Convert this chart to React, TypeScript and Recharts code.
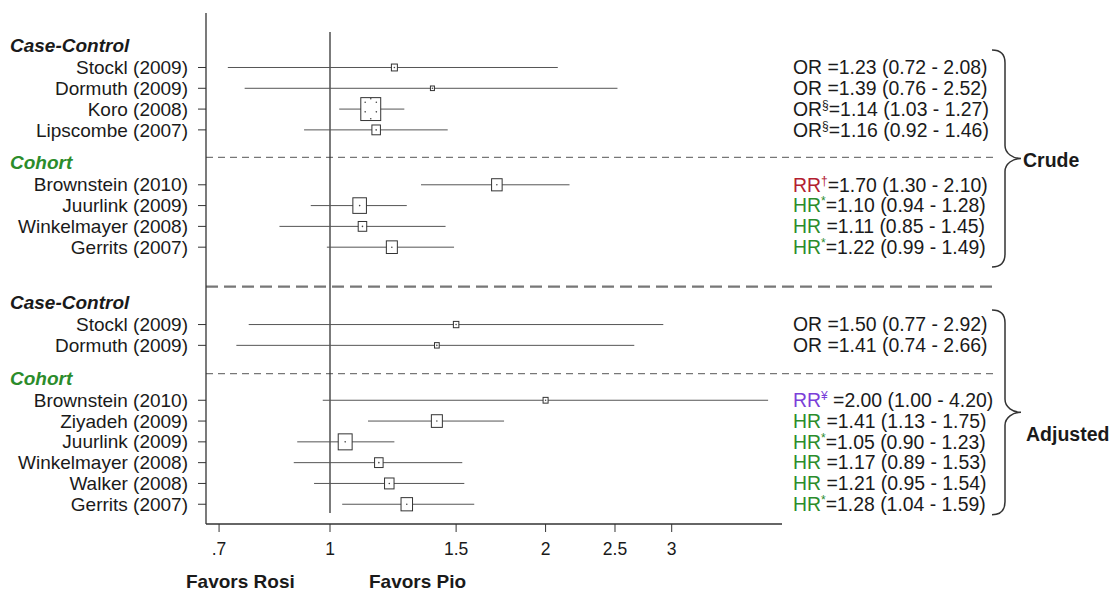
import React from 'react';
import { ScatterChart, Scatter, XAxis, YAxis, ReferenceLine } from 'recharts';

const FONT = '"Liberation Sans", Arial, Helvetica, sans-serif';

// ---------- data: Crude, case-control ----------
const crudeCCNames = ['Stockl (2009)', 'Dormuth (2009)', 'Koro (2008)', 'Lipscombe (2007)'];
const crudeCCEst = [1.23, 1.39, 1.14, 1.16];
const crudeCCLow = [0.72, 0.76, 1.03, 0.92];
const crudeCCHigh = [2.08, 2.52, 1.27, 1.46];
const crudeCCWeight = [7.4, 3.3, 82, 15];
const crudeCCMeasure = ['OR', 'OR', 'OR', 'OR'];
const crudeCCMark = ['', '', '§', '§'];
const crudeCCText = [' =1.23 (0.72 - 2.08)', ' =1.39 (0.76 - 2.52)', '=1.14 (1.03 - 1.27)', '=1.16 (0.92 - 1.46)'];

// ---------- data: Crude, cohort ----------
const crudeCohNames = ['Brownstein (2010)', 'Juurlink (2009)', 'Winkelmayer (2008)', 'Gerrits (2007)'];
const crudeCohEst = [1.71, 1.1, 1.11, 1.22];
const crudeCohLow = [1.34, 0.94, 0.85, 0.99];
const crudeCohHigh = [2.16, 1.28, 1.45, 1.49];
const crudeCohWeight = [23, 38, 15, 25];
const crudeCohMeasure = ['RR', 'HR', 'HR', 'HR'];
const crudeCohMark = ['†', '*', '', '*'];
const crudeCohText = ['=1.70 (1.30 - 2.10)', '=1.10 (0.94 - 1.28)', ' =1.11 (0.85 - 1.45)', '=1.22 (0.99 - 1.49)'];

// ---------- data: Adjusted, case-control ----------
const adjCCNames = ['Stockl (2009)', 'Dormuth (2009)'];
const adjCCEst = [1.5, 1.41];
const adjCCLow = [0.77, 0.74];
const adjCCHigh = [2.92, 2.66];
const adjCCWeight = [6.2, 4.6];
const adjCCMeasure = ['OR', 'OR'];
const adjCCMark = ['', ''];
const adjCCText = [' =1.50 (0.77 - 2.92)', ' =1.41 (0.74 - 2.66)'];

// ---------- data: Adjusted, cohort ----------
const adjCohNames = ['Brownstein (2010)', 'Ziyadeh (2009)', 'Juurlink (2009)', 'Winkelmayer (2008)', 'Walker (2008)', 'Gerrits (2007)'];
const adjCohEst = [2.0, 1.41, 1.05, 1.17, 1.21, 1.28];
const adjCohLow = [0.977, 1.13, 0.9, 0.89, 0.95, 1.04];
const adjCohHigh = [4.09, 1.75, 1.23, 1.53, 1.54, 1.59];
const adjCohWeight = [5.2, 25, 40, 15, 18.6, 27.3];
const adjCohMeasure = ['RR', 'HR', 'HR', 'HR', 'HR', 'HR'];
const adjCohMark = ['¥', '', '*', '', '', '*'];
const adjCohText = [' =2.00 (1.00 - 4.20)', ' =1.41 (1.13 - 1.75)', '=1.05 (0.90 - 1.23)', ' =1.17 (0.89 - 1.53)', ' =1.21 (0.95 - 1.54)', '=1.28 (1.04 - 1.59)'];

const subgroupLabels = ['Case-Control', 'Cohort'];
const sectionLabels = ['Crude', 'Adjusted'];
const xTicks = [0.7, 1, 1.5, 2, 2.5, 3];
const xTickLabels = ['.7', '1', '1.5', '2', '2.5', '3'];
const favorsLabels = ['Favors Rosi', 'Favors Pio'];

// ---------- layout ----------
const W = 1113;
const H = 592;
const PLOT_TOP = 13;
const PLOT_BOTTOM = 524;
const PLOT_LEFT = 206;
const PLOT_RIGHT = 782;
const Y_AXIS_W = 60;
const X_AXIS_H = 40;
const X_DOMAIN: [number, number] = [0.6712, 4.277];
const Y_DOMAIN: [number, number] = [-2.62, 21.95];
const PX_PER_SLOT = (PLOT_BOTTOM - PLOT_TOP) / (Y_DOMAIN[1] - Y_DOMAIN[0]);
const DASH_END = 8.5;
const HEADER_GAP = 1.06;
const SUB_GAP = 2.64;
const DASH_AFTER = 1.32;
const SECTION_GAP = 3.72;
const LONG_DASH_AFTER = 1.9;

const GREEN = '#2b8c2b';
const RED = '#b3202f';
const PURPLE = '#7b3fd9';
const INK = '#1a1a1a';

type Study = {
  name: string; est: number; low: number; high: number; weight: number;
  measure: string; mark: string; text: string; x: number; y: number;
};

function build(names: string[], est: number[], low: number[], high: number[], weight: number[], measure: string[], mark: string[], text: string[], first: number): Study[] {
  return names.map((n, i) => ({
    name: n, est: est[i], low: low[i], high: high[i], weight: weight[i],
    measure: measure[i], mark: mark[i], text: text[i], x: est[i], y: first + i,
  }));
}

const crudeCC = build(crudeCCNames, crudeCCEst, crudeCCLow, crudeCCHigh, crudeCCWeight, crudeCCMeasure, crudeCCMark, crudeCCText, 0);
const crudeCohFirst = crudeCC[crudeCC.length - 1].y + SUB_GAP;
const crudeCoh = build(crudeCohNames, crudeCohEst, crudeCohLow, crudeCohHigh, crudeCohWeight, crudeCohMeasure, crudeCohMark, crudeCohText, crudeCohFirst);
const adjCCFirst = crudeCoh[crudeCoh.length - 1].y + SECTION_GAP;
const adjCC = build(adjCCNames, adjCCEst, adjCCLow, adjCCHigh, adjCCWeight, adjCCMeasure, adjCCMark, adjCCText, adjCCFirst);
const adjCohFirst = adjCC[adjCC.length - 1].y + SUB_GAP;
const adjCoh = build(adjCohNames, adjCohEst, adjCohLow, adjCohHigh, adjCohWeight, adjCohMeasure, adjCohMark, adjCohText, adjCohFirst);

const studies = [...crudeCC, ...crudeCoh, ...adjCC, ...adjCoh];
const studySlots = studies.map((s) => s.y);

const headers = [
  { x: 1, y: crudeCC[0].y - HEADER_GAP, label: subgroupLabels[0], color: INK },
  { x: 1, y: crudeCoh[0].y - HEADER_GAP, label: subgroupLabels[1], color: GREEN },
  { x: 1, y: adjCC[0].y - HEADER_GAP, label: subgroupLabels[0], color: INK },
  { x: 1, y: adjCoh[0].y - HEADER_GAP, label: subgroupLabels[1], color: GREEN },
];

const subDashes = [
  crudeCC[crudeCC.length - 1].y + DASH_AFTER,
  adjCC[adjCC.length - 1].y + DASH_AFTER + 0.04,
];
const longDash = crudeCoh[crudeCoh.length - 1].y + LONG_DASH_AFTER;

const braceTopC = crudeCC[0].y - 0.84;
const braceBotC = crudeCoh[crudeCoh.length - 1].y + 0.95;
const braceTopA = adjCC[0].y - 0.7;
const braceBotA = adjCoh[adjCoh.length - 1].y + 0.5;
const braces = [
  { x: 1, y: (braceTopC + braceBotC) / 2, top: braceTopC, bottom: braceBotC, label: sectionLabels[0], labelShift: 0.08, lx: 1023 },
  { x: 1, y: (braceTopA + braceBotA) / 2, top: braceTopA, bottom: braceBotA, label: sectionLabels[1], labelShift: 1.05, lx: 1026 },
];

const refTop = crudeCC[0].y - 1.71;
const refBottom = adjCoh[adjCoh.length - 1].y + 0.42;

function measureColor(m: string, mark: string) {
  if (m === 'HR') return GREEN;
  if (m === 'RR' && mark === '†') return RED;
  if (m === 'RR') return PURPLE;
  return INK;
}

const BoxShape = (p: any) => {
  const { cx, cy, payload } = p;
  if (cx == null || cy == null) return null;
  const s = 2.2 * Math.sqrt(payload.weight);
  const h = s * 1.15;
  const dots = s >= 15
    ? [[-0.28, -0.3], [0.28, -0.3], [-0.28, 0.12], [0.28, 0.12], [0, -0.45], [0, 0.42]]
    : [[0, 0]];
  return (
    <g>
      <rect x={cx - s / 2} y={cy - h / 2} width={s} height={h} fill="#fff" stroke="#333" strokeWidth={1} />
      {dots.map((d, i) => (
        <circle key={i} cx={cx + d[0] * s} cy={cy + d[1] * h} r={0.8} fill="#444" />
      ))}
    </g>
  );
};

const HeaderShape = (p: any) => {
  const { cy, payload } = p;
  if (cy == null) return null;
  return (
    <text x={10} y={cy} dy="0.35em" fontSize={19} fontWeight="bold" fontStyle="italic" fontFamily={FONT} fill={payload.color}>
      {payload.label}
    </text>
  );
};

const EstimateShape = (p: any) => {
  const { cy, payload } = p;
  if (cy == null) return null;
  const c = measureColor(payload.measure, payload.mark);
  return (
    <text x={793} y={cy} dy="0.35em" fontSize={19.4} fontFamily={FONT} fill={INK}>
      <tspan fill={c}>{payload.measure}</tspan>
      {payload.mark ? <tspan fill={c} fontSize={12} dy={-7}>{payload.mark}</tspan> : null}
      <tspan dy={payload.mark ? 7 : 0}>{payload.text}</tspan>
    </text>
  );
};

const BraceShape = (p: any) => {
  const { cy, payload } = p;
  if (cy == null) return null;
  const top = cy + (payload.top - payload.y) * PX_PER_SLOT;
  const bot = cy + (payload.bottom - payload.y) * PX_PER_SLOT;
  const m = cy;
  const xl = 992;
  const xv = 1005;
  const xt = 1021;
  const d = `M ${xl} ${top} C ${xl + 9} ${top}, ${xv} ${top + 4}, ${xv} ${top + 13} L ${xv} ${m - 13} C ${xv} ${m - 5}, ${xv + 8} ${m}, ${xt} ${m} C ${xv + 8} ${m}, ${xv} ${m + 5}, ${xv} ${m + 13} L ${xv} ${bot - 13} C ${xv} ${bot - 4}, ${xl + 9} ${bot}, ${xl} ${bot}`;
  return (
    <g>
      <path d={d} fill="none" stroke="#333" strokeWidth={1.5} />
      <text x={payload.lx} y={m + payload.labelShift * PX_PER_SLOT} dy="0.35em" fontSize={19.5} fontWeight="bold" fontFamily={FONT} fill={INK}>
        {payload.label}
      </text>
    </g>
  );
};

const FavorsLabel = () => (
  <g>
    <text x={186} y={588} fontSize={19} fontWeight="bold" fontFamily={FONT} fill={INK}>{favorsLabels[0]}</text>
    <text x={369} y={588} fontSize={19} fontWeight="bold" fontFamily={FONT} fill={INK}>{favorsLabels[1]}</text>
  </g>
);

function nameForSlot(v: number) {
  const s = studies.find((st) => Math.abs(st.y - v) < 1e-6);
  return s ? s.name : '';
}

const StudyTick = (p: any) => {
  const { x, y, payload } = p;
  return (
    <text x={x} y={y} dy="0.35em" textAnchor="end" fontSize={19} fontFamily={FONT} fill={INK}>
      {nameForSlot(payload.value)}
    </text>
  );
};

export default function App() {
  return (
    <div style={{ position: 'absolute', left: 0, top: 0, width: W, height: H, background: '#fff' }}>
      <ScatterChart
        width={W}
        height={H}
        margin={{ top: PLOT_TOP, right: W - PLOT_RIGHT, bottom: H - PLOT_BOTTOM - X_AXIS_H, left: PLOT_LEFT - Y_AXIS_W }}
      >
        <XAxis
          type="number"
          dataKey="x"
          scale="log"
          domain={X_DOMAIN}
          ticks={xTicks}
          interval={0}
          height={X_AXIS_H}
          tickSize={8}
          tickMargin={11}
          tickFormatter={(v: number) => xTickLabels[xTicks.indexOf(v)] ?? String(v)}
          axisLine={{ stroke: '#333', strokeWidth: 1.3 }}
          tickLine={{ stroke: '#333', strokeWidth: 1 }}
          tick={{ fontSize: 17.5, fill: INK, fontFamily: FONT }}
          label={<FavorsLabel />}
        />
        <YAxis
          type="number"
          dataKey="y"
          domain={Y_DOMAIN}
          reversed
          ticks={studySlots}
          interval={0}
          width={Y_AXIS_W}
          tickSize={8}
          tickMargin={10}
          axisLine={{ stroke: '#333', strokeWidth: 1.3 }}
          tickLine={{ stroke: '#333', strokeWidth: 1 }}
          tick={<StudyTick />}
        />
        {subDashes.map((y, i) => (
          <ReferenceLine key={'sd' + i} segment={[{ x: X_DOMAIN[0], y }, { x: DASH_END, y }]} ifOverflow="visible" stroke="#777" strokeWidth={1.4} strokeDasharray="7 5" />
        ))}
        <ReferenceLine segment={[{ x: X_DOMAIN[0], y: longDash }, { x: DASH_END, y: longDash }]} ifOverflow="visible" stroke="#777" strokeWidth={2.2} strokeDasharray="12 6" />
        <ReferenceLine segment={[{ x: 1, y: refTop }, { x: 1, y: refBottom }]} stroke="#333" strokeWidth={1.3} />
        {studies.map((s, i) => (
          <ReferenceLine key={'ci' + i} segment={[{ x: s.low, y: s.y }, { x: s.high, y: s.y }]} stroke="#555" strokeWidth={1} />
        ))}
        <Scatter data={studies} shape={BoxShape} isAnimationActive={false} />
        <Scatter data={headers} shape={HeaderShape} isAnimationActive={false} />
        <Scatter data={studies} shape={EstimateShape} isAnimationActive={false} />
        <Scatter data={braces} shape={BraceShape} isAnimationActive={false} />
      </ScatterChart>
    </div>
  );
}
